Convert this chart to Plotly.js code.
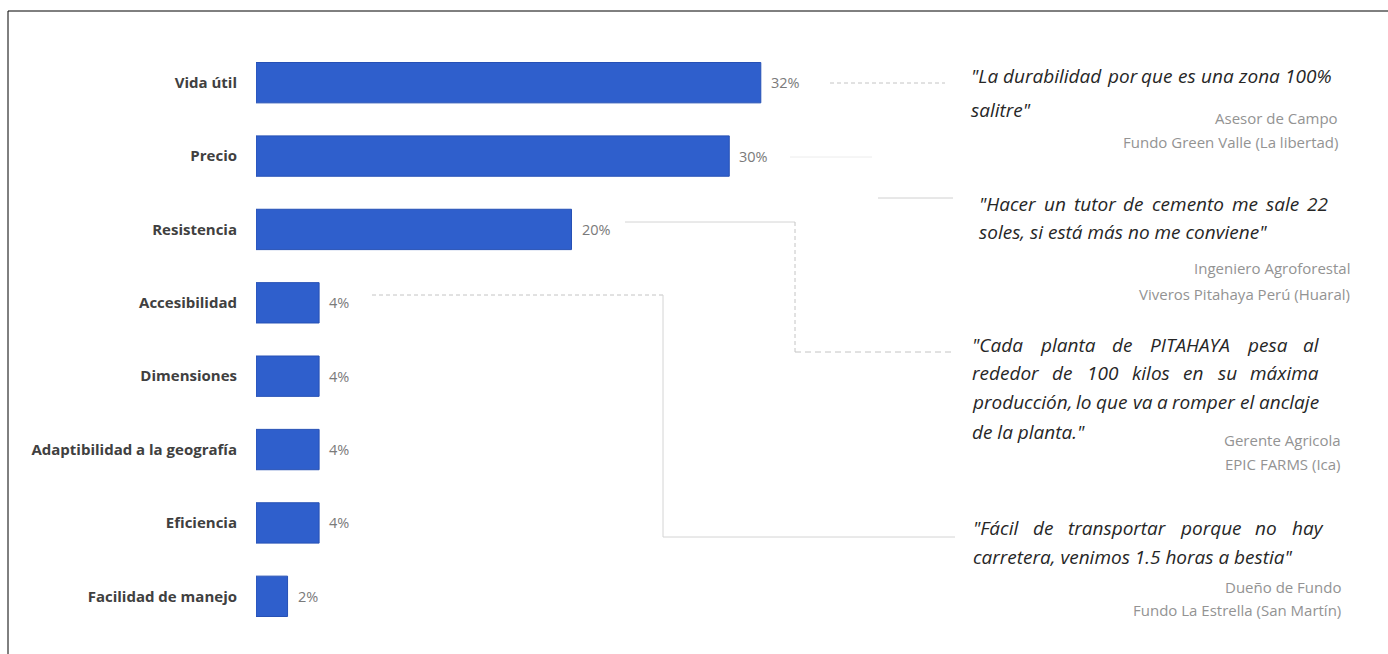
<!DOCTYPE html>
<html>
<head>
<meta charset="utf-8">
<script src="https://cdn.plot.ly/plotly-3.0.1.min.js"></script>
<style>html,body{margin:0;padding:0;background:#fff;}#chart{width:1388px;height:654px;}</style>
</head>
<body>
<div id="chart"></div>
<script>
// ---- data ----
const categories = ["Vida útil","Precio","Resistencia","Accesibilidad","Dimensiones","Adaptibilidad a la geografía","Eficiencia","Facilidad de manejo"];
const values = [32, 30, 20, 4, 4, 4, 4, 2];

const quoteLines = [
  ["\"La durabilidad por que es una zona 100%", "salitre\""],
  ["\"Hacer un tutor de cemento me sale 22", "soles, si está más no me conviene\""],
  ["\"Cada planta de PITAHAYA pesa al", "rededor de 100 kilos en su máxima", "producción, lo que va a romper el anclaje", "de la planta.\""],
  ["\"Fácil de transportar porque no hay", "carretera, venimos 1.5 horas a bestia\""]
];
const quoteAuthors = [
  ["Asesor de Campo", "Fundo Green Valle (La libertad)"],
  ["Ingeniero Agroforestal", "Viveros Pitahaya Perú (Huaral)"],
  ["Gerente Agricola", "EPIC FARMS (Ica)"],
  ["Dueño de Fundo", "Fundo La Estrella (San Martín)"]
];

// ---- layout geometry (pixels) ----
const W = 1388, H = 654;
const M = {l: 256, r: 501, t: 46, b: 21};
const PW = W - M.l - M.r, PH = H - M.t - M.b;
const px = x => (x - M.l) / PW;
const py = y => (H - M.b - y) / PH;

const QFONT = 'Open Sans, sans-serif';
const QSIZE = 19;
const quoteLeft = [970, 978, 971, 972];
const quoteRight = [1330, 1327, 1318, 1321];
const quoteY = [[76, 110], [204, 232], [345, 373, 402, 432], [528, 557]];
const authorRight = [1340, 1352, 1343, 1343];
const authorY = [[118, 142], [268, 294], [440, 464], [587, 610]];

function build() {
  const ctx = document.createElement('canvas').getContext('2d');
  ctx.font = 'italic ' + QSIZE + 'px "Open Sans"';
  const annotations = [];
  quoteLines.forEach((lines, i) => {
    lines.forEach((ln, j) => {
      const isLast = j === lines.length - 1;
      const words = ln.split(' ');
      let positions = null;
      if (!isLast && words.length > 1) {
        const widths = words.map(w => ctx.measureText(w).width);
        const total = widths.reduce((a, b) => a + b, 0);
        const gap = (quoteRight[i] - quoteLeft[i] - total) / (words.length - 1);
        positions = [];
        let xx = quoteLeft[i];
        words.forEach((w, k) => { positions.push(xx); xx += widths[k] + gap; });
      }
      const items = positions ? words.map((w, k) => [w, positions[k]]) : [[ln, quoteLeft[i]]];
      items.forEach(([t, xx]) => {
        annotations.push({
          xref: 'paper', yref: 'paper', x: px(xx), y: py(quoteY[i][j]),
          xanchor: 'left', yanchor: 'middle', showarrow: false,
          text: '<i>' + t + '</i>', borderpad: 0,
          font: {family: QFONT, size: QSIZE, color: '#262626'}
        });
      });
    });
    quoteAuthors[i].forEach((a, j) => {
      annotations.push({
        xref: 'paper', yref: 'paper', x: px(authorRight[i]), y: py(authorY[i][j]),
        xanchor: 'right', yanchor: 'middle', showarrow: false,
        text: a,
        font: {family: 'Open Sans, sans-serif', size: 15, color: '#939393'}
      });
    });
  });

  // value labels, positioned from the data
  values.forEach((v, k) => {
    annotations.push({
      xref: 'x', yref: 'y', x: v, y: categories[k],
      xanchor: 'left', yanchor: 'middle', xshift: 8, showarrow: false,
      text: v + '%',
      font: {family: 'Open Sans, sans-serif', size: 14.5, color: '#7a7a7a'}
    });
  });

  const lineCol = '#c4c4c4';
  function seg(x0, y0, x1, y1, dash, color) {
    return {type: 'line', xref: 'paper', yref: 'paper',
      x0: px(x0), y0: py(y0), x1: px(x1), y1: py(y1),
      line: {color: color || lineCol, width: 1, dash: dash || 'solid'}};
  }
  const shapes = [
    seg(8, 11, 8, 654, 'solid', '#000'),
    seg(8, 11, 1388, 11, 'solid', '#000'),
    seg(830, 83, 945, 83, '4px,3px'),
    seg(790, 157, 872, 157, 'solid', '#ececec'),
    seg(878, 198, 953, 198, 'solid', '#d0d0d0'),
    seg(625, 222, 795, 222, 'solid', '#d4d4d4'),
    seg(795, 222, 795, 352, '4px,3px'),
    seg(795, 352, 955, 352, '6px,4px'),
    seg(372, 295, 663, 295, '4px,3px'),
    seg(663, 295, 663, 537, 'solid', '#d4d4d4'),
    seg(663, 537, 955, 537, 'solid', '#d4d4d4')
  ];

  const trace = {
    type: 'bar', orientation: 'h',
    x: values, y: categories,
    width: 0.55,
    marker: {color: '#2F5FCC', line: {color: '#2650B5', width: 1}},
    hoverinfo: 'skip'
  };

  const layout = {
    width: W, height: H,
    margin: M,
    paper_bgcolor: '#fff', plot_bgcolor: '#fff',
    showlegend: false,
    xaxis: {range: [0, 40], visible: false, fixedrange: true},
    yaxis: {
      autorange: 'reversed', showgrid: false, zeroline: false, showline: false,
      ticks: '', ticklabelstandoff: 18,
      tickfont: {family: 'Open Sans, sans-serif', size: 15, color: '#404040', weight: 'bold'}
    },
    annotations: annotations,
    shapes: shapes
  };

  Plotly.newPlot('chart', [trace], layout, {displayModeBar: false, staticPlot: true});
}

if (document.fonts && document.fonts.load) {
  document.fonts.load('italic ' + QSIZE + 'px "Open Sans"').then(build, build);
} else {
  build();
}
</script>
</body>
</html>
